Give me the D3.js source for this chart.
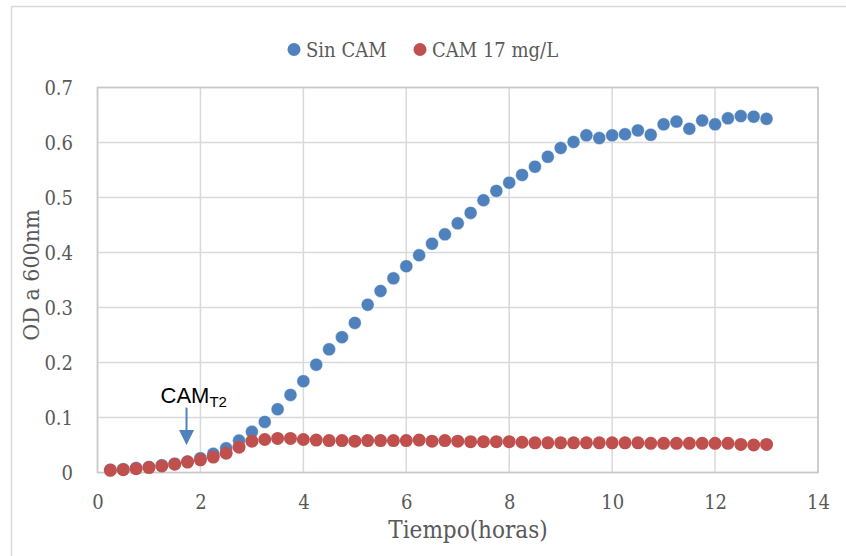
<!DOCTYPE html>
<html>
<head>
<meta charset="utf-8">
<script src="https://cdn.jsdelivr.net/npm/d3@7"></script>
<style>
  body { margin: 0; background: #fff; }
  svg text { font-family: "DejaVu Serif Condensed", "DejaVu Serif", serif; font-stretch: condensed; fill: #595959; }
</style>
</head>
<body>
<svg id="chart" width="846" height="556"></svg>
<script>
// time points (hours)
const hours = [
  0.25, 0.5, 0.75, 1, 1.25, 1.5, 1.75, 2, 2.25, 2.5, 2.75, 3, 3.25, 3.5, 3.75, 4,
  4.25, 4.5, 4.75, 5, 5.25, 5.5, 5.75, 6, 6.25, 6.5, 6.75, 7, 7.25, 7.5, 7.75, 8,
  8.25, 8.5, 8.75, 9, 9.25, 9.5, 9.75, 10, 10.25, 10.5, 10.75, 11, 11.25, 11.5, 11.75, 12,
  12.25, 12.5, 12.75, 13
];

// OD600 without chloramphenicol
const sinCam = [
  0.005, 0.006, 0.008, 0.010, 0.013, 0.016, 0.020, 0.026, 0.034, 0.044, 0.058, 0.074,
  0.092, 0.115, 0.141, 0.166, 0.196, 0.224, 0.246, 0.272, 0.305, 0.330, 0.353, 0.375,
  0.395, 0.416, 0.433, 0.453, 0.472, 0.495, 0.512, 0.527, 0.541, 0.556, 0.574, 0.590,
  0.601, 0.613, 0.608, 0.613, 0.615, 0.622, 0.614, 0.633, 0.638, 0.625, 0.640, 0.633,
  0.644, 0.648, 0.647, 0.643
];

// OD600 with CAM 17 mg/L
const cam17 = [
  0.004, 0.005, 0.007, 0.009, 0.012, 0.015, 0.019, 0.023, 0.028, 0.035, 0.046, 0.057,
  0.060, 0.062, 0.062, 0.060, 0.059, 0.058, 0.058, 0.057, 0.058, 0.058, 0.058, 0.058,
  0.059, 0.057, 0.058, 0.057, 0.056, 0.056, 0.056, 0.056, 0.055, 0.054, 0.054, 0.054,
  0.054, 0.054, 0.054, 0.054, 0.054, 0.054, 0.053, 0.053, 0.053, 0.053, 0.053, 0.053,
  0.053, 0.051, 0.050, 0.051
];

const xTicks = [0, 2, 4, 6, 8, 10, 12, 14];
const yTicks = [0, 0.1, 0.2, 0.3, 0.4, 0.5, 0.6, 0.7];
const seriesNames = ["Sin CAM", "CAM 17 mg/L"];
const colors = ["#4F81BD", "#C0504D"];

// annotation: CAM added at T2
const annot = { x: 1.73, yTop: 0.118, yTip: 0.050 };

const svg = d3.select("#chart");

// outer chart frame
svg.append("rect")
  .attr("x", 11.5).attr("y", 6.5)
  .attr("width", 900).attr("height", 600)
  .attr("fill", "none")
  .attr("stroke", "#d9d9d9")
  .attr("stroke-width", 1.5);

const plotL = 97.5, plotR = 818, plotT = 87.5, plotB = 472.5;

const x = d3.scaleLinear().domain([0, 14]).range([plotL, plotR]);
const y = d3.scaleLinear().domain([0, 0.7]).range([plotB, plotT]);

// gridlines
svg.append("g")
  .selectAll("line")
  .data(xTicks)
  .join("line")
  .attr("x1", d => x(d)).attr("x2", d => x(d))
  .attr("y1", plotT).attr("y2", plotB)
  .attr("stroke", "#d9d9d9")
  .attr("stroke-width", 1.5);

svg.append("g")
  .selectAll("line")
  .data(yTicks)
  .join("line")
  .attr("x1", plotL).attr("x2", plotR)
  .attr("y1", d => y(d)).attr("y2", d => y(d))
  .attr("stroke", "#d9d9d9")
  .attr("stroke-width", 1.5);

// plot area border
svg.append("rect")
  .attr("x", plotL).attr("y", plotT)
  .attr("width", plotR - plotL).attr("height", plotB - plotT)
  .attr("fill", "none")
  .attr("stroke", "#c8c8c8")
  .attr("stroke-width", 1.5);

// axes labels (no axis lines, Excel style)
const xAxis = svg.append("g")
  .attr("transform", `translate(0,${plotB})`)
  .call(d3.axisBottom(x).tickValues(xTicks).tickSize(0).tickPadding(0).tickFormat(d3.format("d")));
xAxis.select(".domain").remove();
xAxis.selectAll("text")
  .attr("dy", null)
  .attr("y", 36)
  .style("font-size", "20px")
  .style("fill", "#595959");

const yAxis = svg.append("g")
  .attr("transform", `translate(73,0)`)
  .call(d3.axisLeft(y).tickValues(yTicks).tickSize(0).tickPadding(0).tickFormat(d => d === 0 ? "0" : d3.format(".1f")(d)));
yAxis.select(".domain").remove();
yAxis.selectAll("text")
  .attr("dy", "0.36em")
  .style("font-size", "20px")
  .style("fill", "#595959");

// axis titles
svg.append("text")
  .attr("x", 468).attr("y", 538)
  .attr("text-anchor", "middle")
  .style("font-size", "24px")
  .text("Tiempo(horas)");

svg.append("text")
  .attr("transform", "translate(39,275) rotate(-90)")
  .attr("text-anchor", "middle")
  .style("font-size", "23px")
  .text("OD a 600nm");

// data points
const series = [sinCam, cam17];
series.forEach((vals, i) => {
  svg.append("g")
    .selectAll("circle")
    .data(hours.map((h, j) => ({ h, v: vals[j] })))
    .join("circle")
    .attr("cx", d => x(d.h))
    .attr("cy", d => y(d.v))
    .attr("r", 6.5)
    .attr("fill", colors[i])
    .attr("stroke", i === 0 ? "rgba(255,255,255,0.55)" : "none")
    .attr("stroke-width", 0.8);
});

// annotation arrow
svg.append("line")
  .attr("x1", x(annot.x)).attr("x2", x(annot.x))
  .attr("y1", y(annot.yTop)).attr("y2", y(annot.yTip) - 12)
  .attr("stroke", colors[0])
  .attr("stroke-width", 2);
svg.append("path")
  .attr("d", `M${x(annot.x) - 7.5},${y(annot.yTip) - 15} L${x(annot.x) + 7.5},${y(annot.yTip) - 15} L${x(annot.x)},${y(annot.yTip)} Z`)
  .attr("fill", colors[0]);

const camLabel = svg.append("text")
  .attr("x", 160.5).attr("y", 402.5)
  .style("font-family", "'Liberation Sans', Arial, sans-serif")
  .style("font-stretch", "normal")
  .style("font-size", "22px")
  .style("fill", "#000");
camLabel.append("tspan").text("CAM");
camLabel.append("tspan")
  .attr("dy", 4.5)
  .style("font-size", "15px")
  .text("T2");

// legend
const legendItems = [{ cx: 294, tx: 306 }, { cx: 420, tx: 432 }];
legendItems.forEach((p, i) => {
  svg.append("circle")
    .attr("cx", p.cx).attr("cy", 49.5)
    .attr("r", 6.5)
    .attr("fill", colors[i]);
  svg.append("text")
    .attr("x", p.tx).attr("y", 57)
    .style("font-size", "20px")
    .text(seriesNames[i]);
});
</script>
</body>
</html>
